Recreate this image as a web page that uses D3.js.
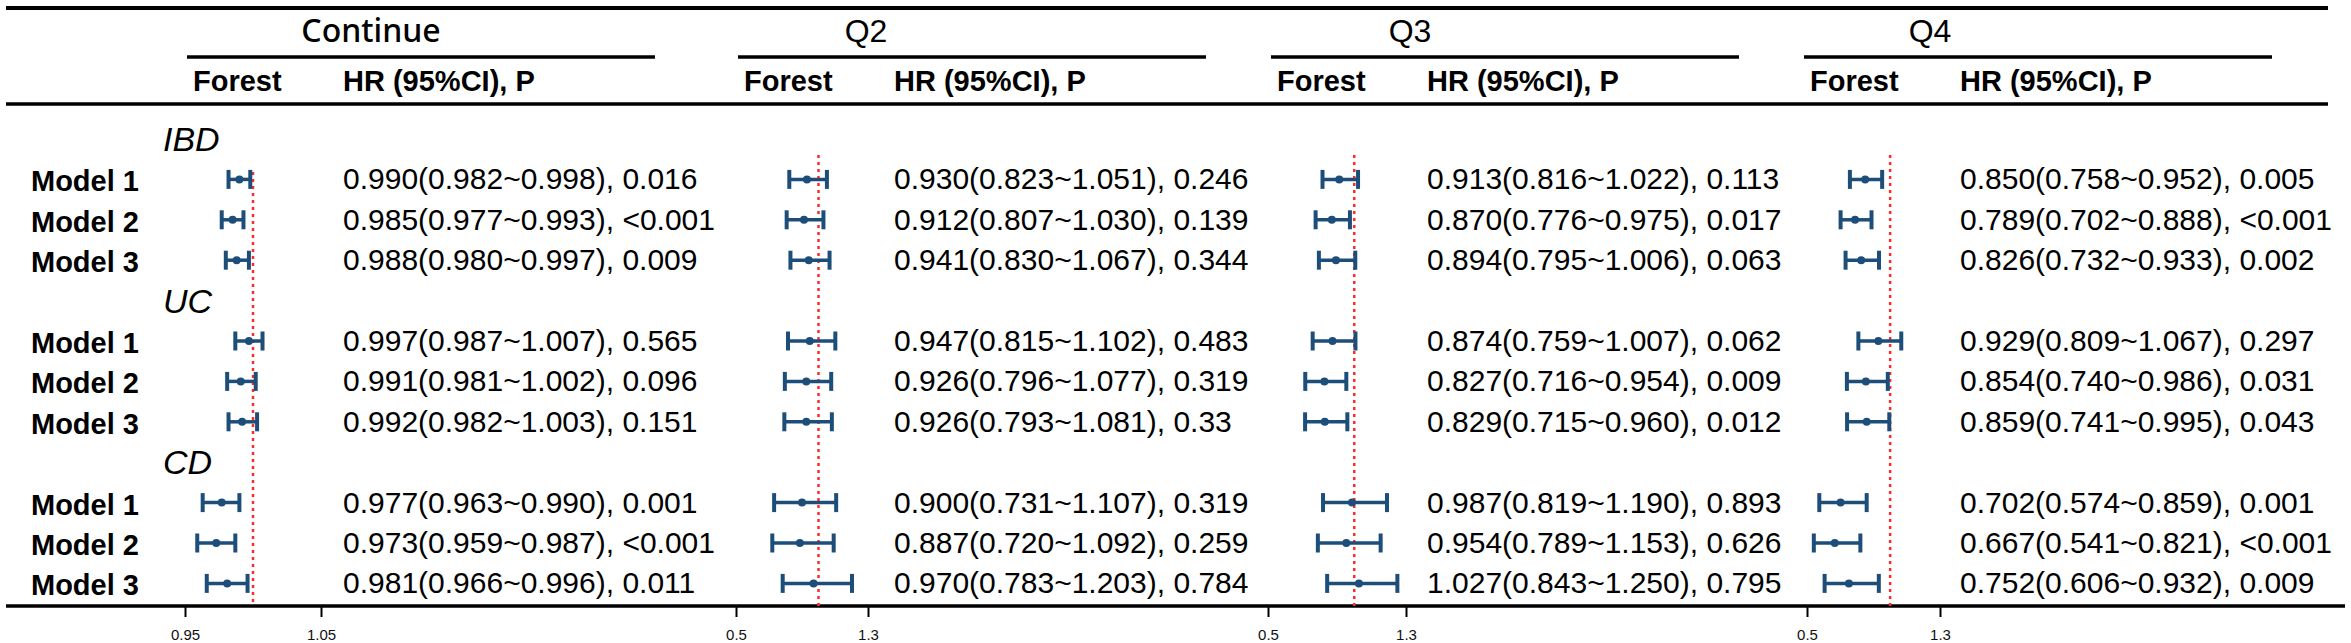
<!DOCTYPE html>
<html>
<head>
<meta charset="utf-8">
<script src="https://cdn.jsdelivr.net/npm/d3@7"></script>
<style>
  body { margin: 0; background: #fff; }
  text { font-family: "Liberation Sans", Arial, sans-serif; }
</style>
</head>
<body>
<div id="plot-container"></div>
<script>
// data
var panels = ['Continue', 'Q2', 'Q3', 'Q4'];
var rowLabels = ['IBD', 'Model 1', 'Model 2', 'Model 3',
                 'UC', 'Model 1', 'Model 2', 'Model 3',
                 'CD', 'Model 1', 'Model 2', 'Model 3'];
var groupRows = [0, 4, 8];

var hrContinue = [0.990, 0.985, 0.988, 0.997, 0.991, 0.992, 0.977, 0.973, 0.981];
var loContinue = [0.982, 0.977, 0.980, 0.987, 0.981, 0.982, 0.963, 0.959, 0.966];
var hiContinue = [0.998, 0.993, 0.997, 1.007, 1.002, 1.003, 0.990, 0.987, 0.996];
var pContinue  = ['0.016', '<0.001', '0.009', '0.565', '0.096', '0.151', '0.001', '<0.001', '0.011'];

var hrQ2 = [0.930, 0.912, 0.941, 0.947, 0.926, 0.926, 0.900, 0.887, 0.970];
var loQ2 = [0.823, 0.807, 0.830, 0.815, 0.796, 0.793, 0.731, 0.720, 0.783];
var hiQ2 = [1.051, 1.030, 1.067, 1.102, 1.077, 1.081, 1.107, 1.092, 1.203];
var pQ2  = ['0.246', '0.139', '0.344', '0.483', '0.319', '0.33', '0.319', '0.259', '0.784'];

var hrQ3 = [0.913, 0.870, 0.894, 0.874, 0.827, 0.829, 0.987, 0.954, 1.027];
var loQ3 = [0.816, 0.776, 0.795, 0.759, 0.716, 0.715, 0.819, 0.789, 0.843];
var hiQ3 = [1.022, 0.975, 1.006, 1.007, 0.954, 0.960, 1.190, 1.153, 1.250];
var pQ3  = ['0.113', '0.017', '0.063', '0.062', '0.009', '0.012', '0.893', '0.626', '0.795'];

var hrQ4 = [0.850, 0.789, 0.826, 0.929, 0.854, 0.859, 0.702, 0.667, 0.752];
var loQ4 = [0.758, 0.702, 0.732, 0.809, 0.740, 0.741, 0.574, 0.541, 0.606];
var hiQ4 = [0.952, 0.888, 0.933, 1.067, 0.986, 0.995, 0.859, 0.821, 0.932];
var pQ4  = ['0.005', '<0.001', '0.002', '0.297', '0.031', '0.043', '0.001', '<0.001', '0.009'];

var tickContinue = [0.95, 1.05];
var tickQ = [0.5, 1.3];
var refValue = 1;

// layout
var width = 2351, height = 643;
var panelLeft = [187, 738, 1271, 1804];      // start of header underline
var panelTitleX = [371, 866, 1410, 1930];
var axisRange = [[185, 321], [736, 868], [1268, 1406], [1807, 1940]];
var refTop = [172, 155, 155, 155];
var lineY = { top: 8, header: 104, bottom: 606 };
var barColor = '#1d4e7a';

var series = [
  { hr: hrContinue, lo: loContinue, hi: hiContinue, p: pContinue, ticks: tickContinue },
  { hr: hrQ2, lo: loQ2, hi: hiQ2, p: pQ2, ticks: tickQ },
  { hr: hrQ3, lo: loQ3, hi: hiQ3, p: pQ3, ticks: tickQ },
  { hr: hrQ4, lo: loQ4, hi: hiQ4, p: pQ4, ticks: tickQ }
];

// row positions
var yScale = d3.scalePoint()
               .domain(d3.range(rowLabels.length))
               .range([139, 583.4]);

// model rows only (skip group label rows)
var modelRows = d3.range(rowLabels.length).filter(function(i){ return groupRows.indexOf(i) < 0; });

var svg = d3.select('#plot-container')
            .append('svg')
            .attr('width', width)
            .attr('height', height);

// table rules
svg.append('line')
   .attr('x1', 6).attr('x2', 2328)
   .attr('y1', lineY.top).attr('y2', lineY.top)
   .attr('stroke', '#000').attr('stroke-width', 4);
svg.append('line')
   .attr('x1', 6).attr('x2', 2328)
   .attr('y1', lineY.header).attr('y2', lineY.header)
   .attr('stroke', '#000').attr('stroke-width', 3.5);
svg.append('line')
   .attr('x1', 6).attr('x2', 2345)
   .attr('y1', lineY.bottom).attr('y2', lineY.bottom)
   .attr('stroke', '#000').attr('stroke-width', 3.5);

// row labels on the left
function isGroup(i) { return groupRows.indexOf(i) >= 0; }

svg.selectAll('text.row')
   .data(rowLabels)
   .enter()
   .append('text')
   .attr('class', 'row')
   .attr('x', function(d, i){ return isGroup(i) ? 163 : 31; })
   .attr('y', function(d, i){ return yScale(i) + 12; })
   .attr('font-size', function(d, i){ return isGroup(i) ? 34 : 29; })
   .attr('font-style', function(d, i){ return isGroup(i) ? 'italic' : 'normal'; })
   .attr('font-weight', function(d, i){ return isGroup(i) ? 'normal' : 'bold'; })
   .text(function(d){ return d; });

panels.forEach(function(name, k){
  var s = series[k];
  var x0 = panelLeft[k];
  var g = svg.append('g');

  // group title
  g.append('text')
   .attr('x', panelTitleX[k])
   .attr('y', 42)
   .attr('text-anchor', 'middle')
   .attr('font-size', 32)
   .attr('font-weight', k === 0 ? 500 : 'normal')
   .style('font-family', k === 0 ? '"Noto Sans", sans-serif' : null)
   .text(name);

  g.append('line')
   .attr('x1', x0).attr('x2', x0 + 468)
   .attr('y1', 57).attr('y2', 57)
   .attr('stroke', '#000').attr('stroke-width', 3.3);

  g.append('text')
   .attr('x', x0 + 6).attr('y', 91)
   .attr('font-size', 29).attr('font-weight', 'bold')
   .text('Forest');
  g.append('text')
   .attr('x', x0 + 156).attr('y', 91)
   .attr('font-size', 29).attr('font-weight', 'bold')
   .text('HR (95%CI), P');

  var xScale = d3.scaleLinear()
                 .domain(s.ticks)
                 .range(axisRange[k]);

  // reference line
  g.append('line')
   .attr('x1', xScale(refValue)).attr('x2', xScale(refValue))
   .attr('y1', refTop[k]).attr('y2', lineY.bottom)
   .attr('stroke', '#ff2a2a').attr('stroke-width', 2.5)
   .attr('stroke-dasharray', '3,4');

  // axis
  var axis = g.append('g')
              .attr('transform', 'translate(0,' + lineY.bottom + ')')
              .call(d3.axisBottom(xScale)
                      .tickValues(s.ticks)
                      .tickSize(11)
                      .tickFormat(function(d){ return String(d); }));
  axis.select('.domain').remove();
  axis.selectAll('.tick line').attr('stroke', '#000').attr('stroke-width', 2);
  axis.selectAll('.tick text')
      .attr('font-size', 15)
      .attr('dy', '1.3em')
      .attr('fill', '#111')
      .style('font-family', '"Liberation Sans", Arial, sans-serif');

  // CI bars
  var bars = g.selectAll('g.ci')
              .data(s.hr)
              .enter()
              .append('g')
              .attr('class', 'ci')
              .attr('transform', function(d, i){ return 'translate(0,' + yScale(modelRows[i]) + ')'; });

  bars.append('line')
      .attr('x1', function(d, i){ return xScale(s.lo[i]); })
      .attr('x2', function(d, i){ return xScale(s.hi[i]); })
      .attr('stroke', barColor).attr('stroke-width', 3.5);
  bars.append('line')
      .attr('x1', function(d, i){ return xScale(s.lo[i]); })
      .attr('x2', function(d, i){ return xScale(s.lo[i]); })
      .attr('y1', -9.5).attr('y2', 9.5)
      .attr('stroke', barColor).attr('stroke-width', 4);
  bars.append('line')
      .attr('x1', function(d, i){ return xScale(s.hi[i]); })
      .attr('x2', function(d, i){ return xScale(s.hi[i]); })
      .attr('y1', -9.5).attr('y2', 9.5)
      .attr('stroke', barColor).attr('stroke-width', 4);
  bars.append('circle')
      .attr('cx', function(d){ return xScale(d); })
      .attr('r', 4)
      .attr('fill', barColor);

  // HR text
  g.selectAll('text.hr')
   .data(s.hr)
   .enter()
   .append('text')
   .attr('class', 'hr')
   .attr('x', x0 + 156)
   .attr('y', function(d, i){ return yScale(modelRows[i]) + 10; })
   .attr('font-size', 30)
   .text(function(d, i){
     return d.toFixed(3) + '(' + s.lo[i].toFixed(3) + '~' + s.hi[i].toFixed(3) + '), ' + s.p[i];
   });
});
</script>
</body>
</html>
